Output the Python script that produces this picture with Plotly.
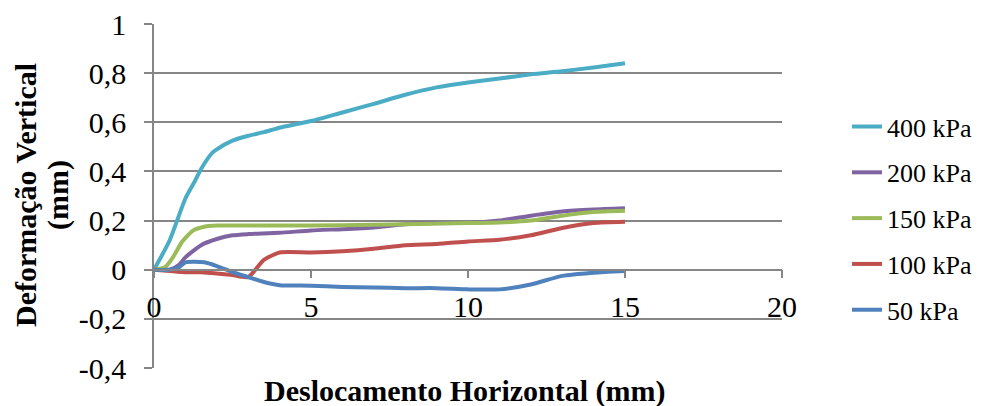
import plotly.graph_objects as go

# ---- data ----
x400 = [0, 0.5, 1, 1.3, 1.5, 1.85, 2, 2.5, 3, 3.5, 4, 5, 6, 7, 8, 9, 10, 11, 12, 13, 14, 15]
y400 = [0, 0.12, 0.29, 0.36, 0.41, 0.475, 0.49, 0.525, 0.545, 0.56, 0.578, 0.605, 0.64, 0.675, 0.712, 0.742, 0.762, 0.778, 0.795, 0.808, 0.823, 0.84]

x200 = [0, 0.5, 0.8, 1, 1.5, 2, 2.5, 3, 4, 5, 6, 7, 8, 9, 10, 11, 12, 13, 14, 15]
y200 = [0, 0, 0.02, 0.05, 0.1, 0.125, 0.14, 0.145, 0.15, 0.16, 0.165, 0.172, 0.185, 0.19, 0.19, 0.2, 0.22, 0.237, 0.245, 0.25]

x150 = [0, 0.35, 0.6, 0.9, 1.25, 1.6, 2, 3, 5, 7, 10, 11, 12, 13, 14, 15]
y150 = [0, 0.01, 0.05, 0.115, 0.16, 0.175, 0.18, 0.18, 0.18, 0.183, 0.19, 0.192, 0.2, 0.22, 0.235, 0.24]

x100 = [0, 0.5, 1, 1.5, 2, 2.5, 3, 3.5, 4, 5, 6, 7, 8, 9, 10, 11, 12, 13, 14, 15]
y100 = [0, -0.005, -0.01, -0.01, -0.015, -0.022, -0.03, 0.04, 0.07, 0.07, 0.075, 0.085, 0.1, 0.105, 0.115, 0.122, 0.14, 0.17, 0.19, 0.195]

x50 = [0, 0.5, 0.8, 1, 1.6, 2, 2.5, 3, 3.5, 4, 5, 6, 7, 8, 9, 10, 11, 12, 13, 14, 15]
y50 = [0, 0, 0.01, 0.03, 0.03, 0.015, -0.01, -0.03, -0.05, -0.063, -0.065, -0.07, -0.072, -0.075, -0.075, -0.08, -0.08, -0.06, -0.025, -0.012, -0.005]

series_names = ["400 kPa", "200 kPa", "150 kPa", "100 kPa", "50 kPa"]
series_colors = ["#4BACC6", "#8064A2", "#9BBB59", "#C0504D", "#4F81BD"]

y_tickvals = [-0.4, -0.2, 0, 0.2, 0.4, 0.6, 0.8, 1]
y_ticktext = ["-0,4", "-0,2", "0", "0,2", "0,4", "0,6", "0,8", "1"]
x_tickvals = [0, 5, 10, 15, 20]
x_ticktext = ["0", "5", "10", "15", "20"]

FONT = "Times New Roman, Liberation Serif, DejaVu Serif, serif"
GRID = "#868686"

fig = go.Figure()
data = [(x400, y400), (x200, y200), (x150, y150), (x100, y100), (x50, y50)]
for (xs, ys), name, col in zip(data, series_names, series_colors):
    fig.add_trace(go.Scatter(
        x=xs, y=ys, mode="lines", name=name, legendgroup=name,
        line=dict(color=col, width=4, shape="spline", smoothing=0.6),
        hoverinfo="skip",
    ))

y0frac = (0 - (-0.4)) / 1.4

fig.update_layout(
    width=982, height=406,
    margin=dict(l=154, r=200, t=24, b=38, autoexpand=False),
    paper_bgcolor="white", plot_bgcolor="white",
    font=dict(family=FONT, size=30, color="black"),
    showlegend=True,
    legend=dict(
        x=1.1035, y=0.77, xanchor="left", yanchor="top",
        font=dict(family=FONT, size=26, color="black"),
        tracegroupgap=9, traceorder="grouped",
        bgcolor="rgba(0,0,0,0)",
    ),
    xaxis=dict(
        range=[0, 20], tickvals=x_tickvals, ticktext=x_ticktext,
        showgrid=False, zeroline=False, automargin=False,
        showline=True, linecolor=GRID, linewidth=1.5,
        ticks="outside", ticklen=8, tickcolor=GRID, tickwidth=1.5,
        anchor="free", position=y0frac,
        tickfont=dict(family=FONT, size=30),
        ticklabelstandoff=3,
    ),
    yaxis=dict(
        range=[-0.4, 1], tickvals=y_tickvals, ticktext=y_ticktext,
        showgrid=True, gridcolor=GRID, gridwidth=1.5, zeroline=False, automargin=False,
        showline=True, linecolor=GRID, linewidth=1.5,
        ticks="outside", ticklen=8, tickcolor=GRID, tickwidth=1.5,
        tickfont=dict(family=FONT, size=30),
        ticklabelstandoff=12,
    ),
)

fig.add_annotation(
    text="<b>Deslocamento Horizontal (mm)</b>", xref="paper", yref="paper",
    x=0.495, y=-0.067, xanchor="center", yanchor="middle", showarrow=False,
    font=dict(family=FONT, size=30, color="black"),
)
fig.add_annotation(
    text="<b>Deformação Vertical</b>", xref="paper", yref="paper",
    x=-0.2038, y=0.503, xanchor="center", yanchor="middle", showarrow=False,
    textangle=-90,
    font=dict(family=FONT, size=30, color="black"),
)
fig.add_annotation(
    text="<b>(mm)</b>", xref="paper", yref="paper",
    x=-0.1529, y=0.503, xanchor="center", yanchor="middle", showarrow=False,
    textangle=-90,
    font=dict(family=FONT, size=30, color="black"),
)

fig.write_html("out.html")
